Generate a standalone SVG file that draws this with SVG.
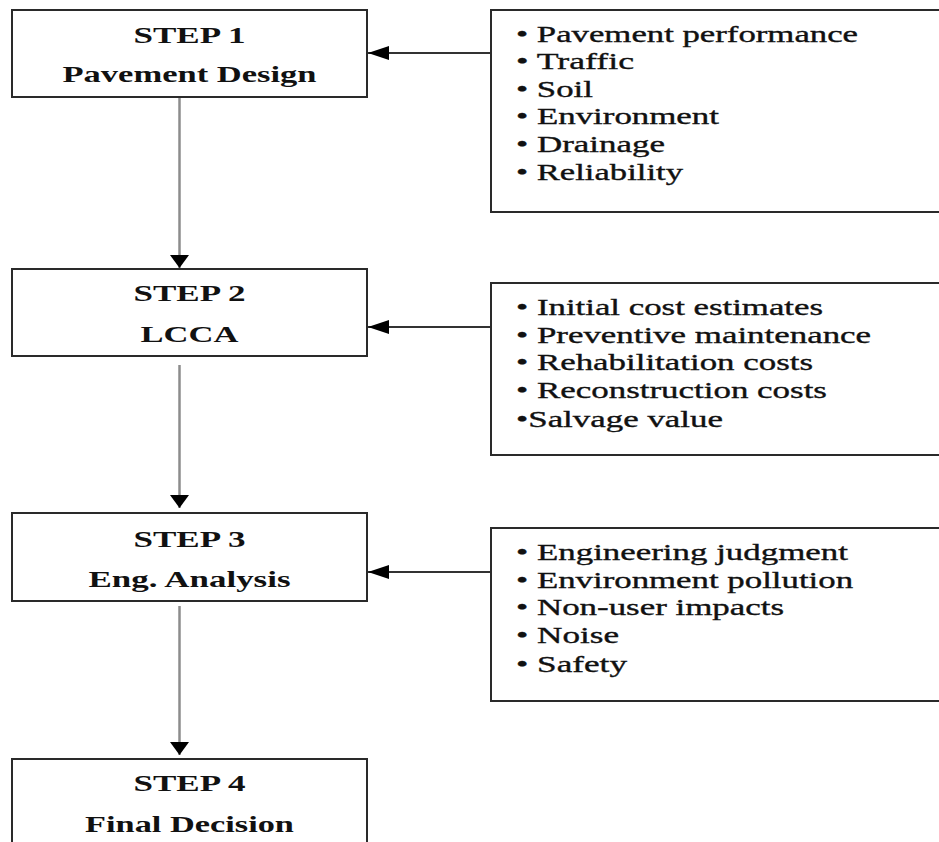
<svg xmlns="http://www.w3.org/2000/svg" width="939" height="842" viewBox="0 0 939 842">
<style>
.box{fill:#fff;stroke:#2a2a2a;stroke-width:2}
.step{font-family:"Liberation Serif","Times New Roman",serif;font-weight:bold;font-size:24px;fill:#111;text-anchor:middle}
.item{font-family:"Liberation Serif","Times New Roman",serif;font-size:23px;fill:#111;stroke:#111;stroke-width:0.35}
.vline{stroke:#8c8c8c;stroke-width:2.5;fill:none}
.hline{stroke:#333;stroke-width:2;fill:none}
</style>
<defs>
<marker id="arrL" markerUnits="userSpaceOnUse" markerWidth="21" markerHeight="14" refX="21" refY="7" orient="auto"><path d="M0,0 L21,7 L0,14 z" fill="#000"/></marker>
<marker id="arrD" markerUnits="userSpaceOnUse" markerWidth="13" markerHeight="19" refX="13" refY="9.5" orient="auto"><path d="M0,0 L13,9.5 L0,19 z" fill="#000"/></marker>
</defs>
<rect width="939" height="842" fill="#fff"/>
<g id="connectors">
<line class="vline" x1="179.5" y1="97" x2="179.5" y2="268" marker-end="url(#arrD)"/>
<line class="vline" x1="179.5" y1="365" x2="179.5" y2="508" marker-end="url(#arrD)"/>
<line class="vline" x1="179.5" y1="606" x2="179.5" y2="755" marker-end="url(#arrD)"/>
<line class="hline" x1="491" y1="53" x2="368" y2="53" marker-end="url(#arrL)"/>
<line class="hline" x1="491" y1="327" x2="368" y2="327" marker-end="url(#arrL)"/>
<line class="hline" x1="491" y1="572" x2="368" y2="572" marker-end="url(#arrL)"/>
</g>
<g id="step1">
<rect class="box" x="12" y="10" width="355" height="87"/>
<text class="step" transform="translate(189.5,43) scale(1.44,1)" textLength="77.8" lengthAdjust="spacingAndGlyphs">STEP 1</text>
<text class="step" transform="translate(189.5,82) scale(1.44,1)" textLength="176.4" lengthAdjust="spacingAndGlyphs">Pavement Design</text>
</g>
<g id="step2">
<rect class="box" x="12" y="269" width="355" height="87"/>
<text class="step" transform="translate(189.5,301) scale(1.44,1)" textLength="77.8" lengthAdjust="spacingAndGlyphs">STEP 2</text>
<text class="step" transform="translate(189.5,342) scale(1.44,1)" textLength="68" lengthAdjust="spacingAndGlyphs">LCCA</text>
</g>
<g id="step3">
<rect class="box" x="12" y="513" width="355" height="88"/>
<text class="step" transform="translate(189.5,547) scale(1.44,1)" textLength="77.8" lengthAdjust="spacingAndGlyphs">STEP 3</text>
<text class="step" transform="translate(189.5,587) scale(1.44,1)" textLength="140.3" lengthAdjust="spacingAndGlyphs">Eng. Analysis</text>
</g>
<g id="step4">
<rect class="box" x="12" y="759" width="355" height="100"/>
<text class="step" transform="translate(189.5,791) scale(1.44,1)" textLength="77.8" lengthAdjust="spacingAndGlyphs">STEP 4</text>
<text class="step" transform="translate(189.5,832) scale(1.44,1)" textLength="145.1" lengthAdjust="spacingAndGlyphs">Final Decision</text>
</g>
<g id="inputs1">
<rect class="box" x="491" y="10" width="460" height="202"/>
<text class="item" transform="translate(516,42) scale(1.5,1)" textLength="228" lengthAdjust="spacingAndGlyphs">• Pavement performance</text>
<text class="item" transform="translate(516,69) scale(1.5,1)" textLength="78.7" lengthAdjust="spacingAndGlyphs">• Traffic</text>
<text class="item" transform="translate(516,97) scale(1.5,1)" textLength="51.3" lengthAdjust="spacingAndGlyphs">• Soil</text>
<text class="item" transform="translate(516,124) scale(1.5,1)" textLength="135.3" lengthAdjust="spacingAndGlyphs">• Environment</text>
<text class="item" transform="translate(516,152) scale(1.5,1)" textLength="99.3" lengthAdjust="spacingAndGlyphs">• Drainage</text>
<text class="item" transform="translate(516,180) scale(1.5,1)" textLength="111.3" lengthAdjust="spacingAndGlyphs">• Reliability</text>
</g>
<g id="inputs2">
<rect class="box" x="491" y="283" width="460" height="172"/>
<text class="item" transform="translate(516,315) scale(1.5,1)" textLength="204.7" lengthAdjust="spacingAndGlyphs">• Initial cost estimates</text>
<text class="item" transform="translate(516,343) scale(1.5,1)" textLength="236.7" lengthAdjust="spacingAndGlyphs">• Preventive maintenance</text>
<text class="item" transform="translate(516,370) scale(1.5,1)" textLength="198" lengthAdjust="spacingAndGlyphs">• Rehabilitation costs</text>
<text class="item" transform="translate(516,398) scale(1.5,1)" textLength="207.3" lengthAdjust="spacingAndGlyphs">• Reconstruction costs</text>
<text class="item" transform="translate(516,427) scale(1.5,1)" textLength="138" lengthAdjust="spacingAndGlyphs">•Salvage value</text>
</g>
<g id="inputs3">
<rect class="box" x="491" y="528" width="460" height="173"/>
<text class="item" transform="translate(516,560) scale(1.5,1)" textLength="221.3" lengthAdjust="spacingAndGlyphs">• Engineering judgment</text>
<text class="item" transform="translate(516,588) scale(1.5,1)" textLength="224.7" lengthAdjust="spacingAndGlyphs">• Environment pollution</text>
<text class="item" transform="translate(516,615) scale(1.5,1)" textLength="178.7" lengthAdjust="spacingAndGlyphs">• Non-user impacts</text>
<text class="item" transform="translate(516,643) scale(1.5,1)" textLength="68.7" lengthAdjust="spacingAndGlyphs">• Noise</text>
<text class="item" transform="translate(516,672) scale(1.5,1)" textLength="74" lengthAdjust="spacingAndGlyphs">• Safety</text>
</g>
</svg>
